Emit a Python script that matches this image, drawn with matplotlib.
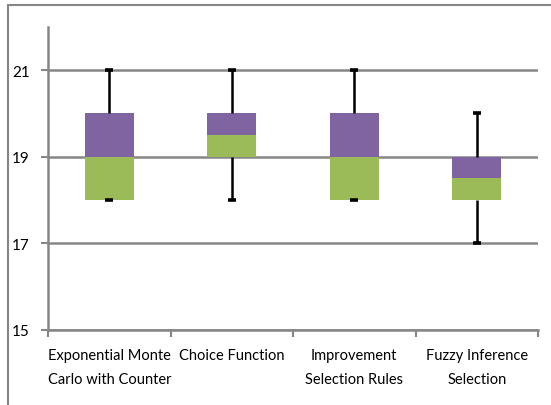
import matplotlib.pyplot as plt
import numpy as np
from matplotlib.patches import Rectangle

categories = ['Exponential Monte\nCarlo with Counter', 'Choice Function',
              'Improvement\nSelection Rules', 'Fuzzy Inference\nSelection']
mins = [18, 18, 18, 17]
q1 = [18, 19, 18, 18]
medians = [19, 19.5, 19, 18.5]
q3 = [20, 20, 20, 19]
maxs = [21, 21, 21, 20]

plt.rcParams['font.family'] = ['Lato', 'DejaVu Sans']

fig = plt.figure(figsize=(5.51, 4.06), dpi=100)
fig.patches.append(Rectangle((8 / 551, -0.1), 1.0, 1 - 6 / 406 + 0.1,
                             transform=fig.transFigure, fill=False,
                             edgecolor='#868686', linewidth=1.5))
ax = fig.add_axes([48 / 551, 1 - 330.7 / 406, 490 / 551, (330.7 - 28) / 406])

x = np.arange(len(categories))
q1 = np.array(q1, dtype=float)
medians = np.array(medians, dtype=float)
q3 = np.array(q3, dtype=float)

ax.bar(x, medians - q1, 0.4, bottom=q1, color='#9BBB59', zorder=2)
ax.bar(x, q3 - medians, 0.4, bottom=medians, color='#8064A2', zorder=2)

# whiskers
cap = 0.033
ax.vlines(x, q3, maxs, color='black', linewidth=1.8, zorder=3)
ax.vlines(x, mins, q1, color='black', linewidth=1.8, zorder=3)
ax.hlines(maxs, x - cap, x + cap, color='black', linewidth=2.6, zorder=3)
ax.hlines(mins, x - cap, x + cap, color='black', linewidth=2.6, zorder=3)

ax.set_xlim(-0.5, len(categories) - 0.5)
ax.set_ylim(15, 22)
ax.set_yticks([15, 17, 19, 21])
ax.yaxis.grid(True, color='#868686', linewidth=1.8, zorder=0)
ax.set_axisbelow(True)

ax.set_xticks(np.arange(-0.5, len(categories), 1.0))
ax.set_xticklabels([])
ax.set_xticks(x, minor=True)
ax.set_xticklabels(categories, minor=True, fontsize=10.5, linespacing=1.9)
ax.tick_params(axis='x', which='minor', length=0, pad=13)
ax.tick_params(axis='x', which='major', length=5, width=1.5, color='#868686')
ax.tick_params(axis='y', length=5, width=1.5, color='#868686', labelsize=11, pad=8)

for s in ['top', 'right']:
    ax.spines[s].set_visible(False)
for s in ['left', 'bottom']:
    ax.spines[s].set_color('#868686')
    ax.spines[s].set_linewidth(1.8)

fig.savefig('out.png', dpi=100)
